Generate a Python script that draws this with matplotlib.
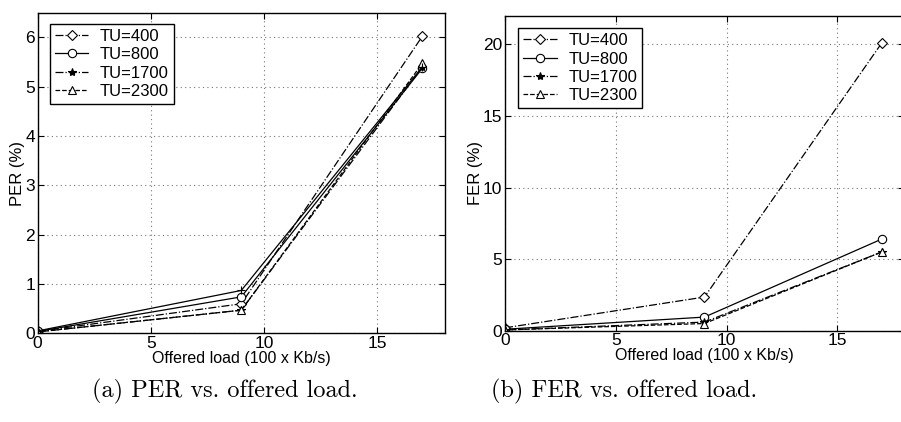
import matplotlib
matplotlib.use("Agg")
import matplotlib.pyplot as plt

plt.rcParams['font.family'] = ['Liberation Sans', 'DejaVu Sans']

load = [0, 9, 17]
labels = ["TU=400", "TU=800", "TU=1700", "TU=2300"]

per_400 = [0.04, 0.60, 6.02]
per_800 = [0.04, 0.74, 5.37]
per_1700 = [0.03, 0.47, 5.40]
per_2300 = [0.03, 0.47, 5.47]
per_extra = [0.05, 0.87, 5.40]

fer_400 = [0.20, 2.35, 20.10]
fer_800 = [0.10, 0.95, 6.40]
fer_1700 = [0.05, 0.60, 5.50]
fer_2300 = [0.05, 0.50, 5.50]

styles = [
    dict(linestyle='-.', marker='D', markersize=5.5, markerfacecolor='white'),
    dict(linestyle='-', marker='o', markersize=6, markerfacecolor='white'),
    dict(linestyle='-.', marker='*', markersize=6, markerfacecolor='black'),
    dict(linestyle='--', marker='^', markersize=6, markerfacecolor='white'),
]

fig = plt.figure(figsize=(9.01, 4.22), dpi=100)
ax1 = fig.add_axes([0.0418, 0.210, 0.452, 0.760])
ax2 = fig.add_axes([0.5605, 0.2164, 0.4428, 0.7464])


def draw(ax, series, ylim, yticks, ylabel, extra=None, legend_anchor=None):
    for vals, lab, st in zip(series, labels, styles):
        ax.plot(load, vals, color='black', linewidth=0.9, label=lab,
                markeredgecolor='black', markeredgewidth=0.8, **st)
    if extra is not None:
        ax.plot(load, extra, color='black', linewidth=0.9, linestyle='-',
                marker='+', markersize=6, markeredgewidth=0.8)
    ax.set_xlim(0, 18)
    ax.set_ylim(*ylim)
    ax.set_xticks([0, 5, 10, 15])
    ax.set_yticks(yticks)
    ax.grid(True, linestyle=(0, (1, 3)), color='#777777', linewidth=0.8)
    ax.tick_params(direction='in', top=True, right=True, labelsize=12.5,
                   length=4, pad=2)
    for s in ax.spines.values():
        s.set_linewidth(1.0)
    ax.set_xlabel("Offered load (100 x Kb/s)", fontsize=11.5, labelpad=0)
    ax.set_ylabel(ylabel, fontsize=12, labelpad=0)
    leg = ax.legend(loc='upper left', bbox_to_anchor=legend_anchor,
                    fontsize=12, frameon=True, fancybox=False, framealpha=1,
                    edgecolor='black', handlelength=2.0, labelspacing=0.2,
                    borderpad=0.3, handletextpad=0.7, borderaxespad=0)
    leg.get_frame().set_linewidth(1.0)


draw(ax1, [per_400, per_800, per_1700, per_2300], (0, 6.5), range(0, 7),
     "PER (%)", extra=per_extra, legend_anchor=(0.03, 0.965))
draw(ax2, [fer_400, fer_800, fer_1700, fer_2300], (0, 22), [0, 5, 10, 15, 20],
     "FER (%)", legend_anchor=(0.033, 0.96))

fig.text(0.249, 0.073, "(a) PER vs. offered load.", fontsize=17.5,
         family='cmr10', ha='center', va='center')
fig.text(0.693, 0.073, "(b) FER vs. offered load.", fontsize=17.5,
         family='cmr10', ha='center', va='center')

fig.savefig("out.png", dpi=100)
